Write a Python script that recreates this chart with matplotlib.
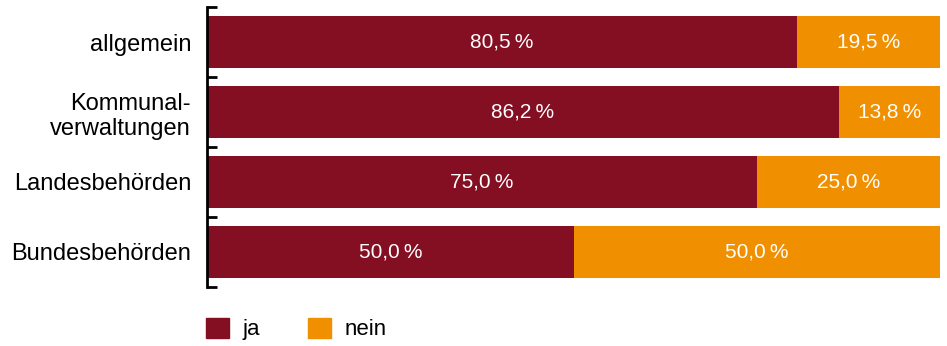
import matplotlib
matplotlib.use("Agg")
import matplotlib.pyplot as plt
import numpy as np
from matplotlib.patches import Patch

plt.rcParams["font.family"] = ["Liberation Sans", "DejaVu Sans"]

categories = ["allgemein", "Kommunal-\nverwaltungen", "Landesbehörden", "Bundesbehörden"]
ja = [80.5, 86.2, 75.0, 50.0]
nein = [19.5, 13.8, 25.0, 50.0]

RED = "#840e22"
ORANGE = "#f09000"


def fmt(v):
    return f"{v:.1f}".replace(".", ",") + "\u2009%"


fig = plt.figure(figsize=(9.47, 3.46), dpi=100)
ax = fig.add_axes([207 / 947, 1 - 287 / 346, 733 / 947, 280 / 346])

y = np.arange(len(categories))
h = 0.74
ax.barh(y, ja, height=h, color=RED)
ax.barh(y, nein, left=ja, height=h, color=ORANGE)
for yi, a, b in zip(y, ja, nein):
    ax.text(a / 2, yi, fmt(a), ha="center", va="center", color="white", fontsize=15)
    ax.text(a + b / 2, yi, fmt(b), ha="center", va="center", color="white", fontsize=15)

ax.set_xlim(0, 100)
ax.set_ylim(len(categories) - 0.5, -0.5)
ax.set_yticks(y)
ax.set_yticklabels(categories, fontsize=17, linespacing=1.2)
ax.set_yticks(np.arange(-0.5, len(categories)), minor=True)
ax.tick_params(axis="y", which="major", length=0, pad=11.5)
ax.tick_params(axis="y", which="minor", length=7, width=2, direction="in")
ax.set_xticks([])
for s in ["top", "right", "bottom"]:
    ax.spines[s].set_visible(False)
ax.spines["left"].set_linewidth(2)

handles = [Patch(color=RED, label="ja"), Patch(color=ORANGE, label="nein")]
fig.legend(handles=handles, loc="center left", bbox_to_anchor=(206 / 947, 1 - 329 / 346),
           ncol=2, frameon=False, fontsize=16, handlelength=1.03, handleheight=1.03,
           columnspacing=2.15, handletextpad=0.63, borderpad=0, borderaxespad=0)

fig.savefig("out.png", dpi=100)
